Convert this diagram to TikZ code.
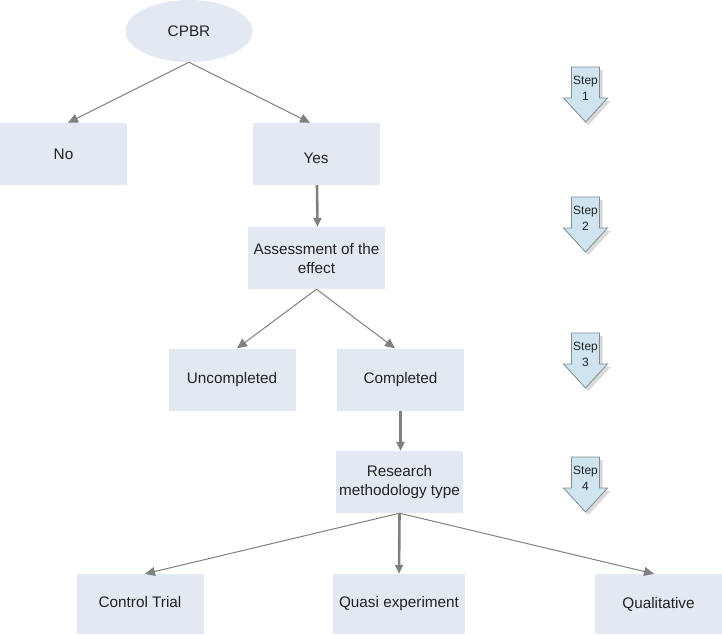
\documentclass[tikz,border=0pt]{standalone}
\usepackage{fontspec}
\setmainfont{Liberation Sans}
\usetikzlibrary{arrows.meta,shapes.geometric}
\definecolor{boxfill}{HTML}{E3E9F3}
\definecolor{linegray}{HTML}{808080}
\definecolor{txt}{HTML}{222222}
\definecolor{stepfill}{HTML}{CFE4EE}
\definecolor{stepline}{HTML}{7F8C94}
\tikzset{
  box/.style={rectangle, fill=boxfill, draw=none, minimum width=127pt, minimum height=62pt, inner sep=0pt, align=center, text=txt, font=\fontsize{15.3}{19}\selectfont},
  oval/.style={ellipse, fill=boxfill, draw=none, minimum width=127pt, minimum height=62pt, inner sep=0pt, text=txt, font=\fontsize{15.3}{19}\selectfont},
  thinarrow/.style={draw=linegray, line width=1pt, -{Triangle[length=10pt,width=9pt]}, linegray},
  thickarrow/.style={draw=linegray, line width=2.6pt, -{Triangle[length=9pt,width=8pt]}, linegray},
  steplabel/.style={align=center, inner sep=0pt, text=txt, font=\fontsize{12}{16.5}\selectfont},
}
\begin{document}
\begin{tikzpicture}[x=1pt,y=-1pt]
\useasboundingbox (0,0) rectangle (722,634);
\fill[white] (0,0) rectangle (722,634);

\node[oval] (cpbr) at (189,31) {CPBR};
\node[box] (no) at (63.5,154) {No};
\node[box] (yes) at (316,154) {\raisebox{-4pt}[\height][\depth]{Yes}};
\node[box, minimum width=137pt] (assess) at (316.5,258) {\raisebox{-2.5pt}[\height][\depth]{\begin{tabular}{@{}c@{}}Assessment of the\\effect\end{tabular}}};
\node[box] (uncomp) at (232,379.5) {Uncompleted};
\node[box] (comp) at (400.5,379.5) {Completed};
\node[box] (research) at (399.5,482) {Research\\methodology type};
\node[box, minimum height=60pt] (ctrl) at (140,604) {\raisebox{2pt}[\height][\depth]{Control Trial}};
\node[box, minimum width=132pt, minimum height=60pt] (quasi) at (399,604) {Quasi experiment};
\node[box, minimum height=60pt] (qual) at (658.5,604) {Qualitative};

\draw[thinarrow] (cpbr.south) -- ([xshift=4.5pt]no.north);
\draw[thinarrow] (cpbr.south) -- ([xshift=-6pt]yes.north);
\draw[thickarrow] ([xshift=1pt]yes.south) -- ([xshift=1pt]assess.north);
\draw[thinarrow] (assess.south) -- ([xshift=5pt]uncomp.north);
\draw[thinarrow] (assess.south) -- ([xshift=-5.5pt]comp.north);
\draw[thickarrow] (comp.south) -- ([xshift=1pt]research.north);
\draw[thinarrow] (research.south) -- ([xshift=5pt]ctrl.north);
\draw[thickarrow] (research.south) -- (quasi.north);
\draw[thinarrow] (research.south) -- ([xshift=-4.5pt]qual.north);

\foreach \n/\yy in {1/67, 2/197, 3/333, 4/457} {
  \fill[gray!30] (588.5,\yy+3) -- (602.5,\yy+3) -- (602.5,\yy+34) -- (610.5,\yy+34) -- (588.5,\yy+58) -- (566.5,\yy+34) -- (574.5,\yy+34) -- cycle;
  \filldraw[fill=stepfill, draw=stepline, line width=0.8pt] (571.5,\yy) -- (599.5,\yy) -- (599.5,\yy+31) -- (607.5,\yy+31) -- (585.5,\yy+55) -- (563.5,\yy+31) -- (571.5,\yy+31) -- cycle;
  \node[steplabel] (step\n) at (585.5,\yy+21.5) {Step\\\n};
}
\end{tikzpicture}
\end{document}
